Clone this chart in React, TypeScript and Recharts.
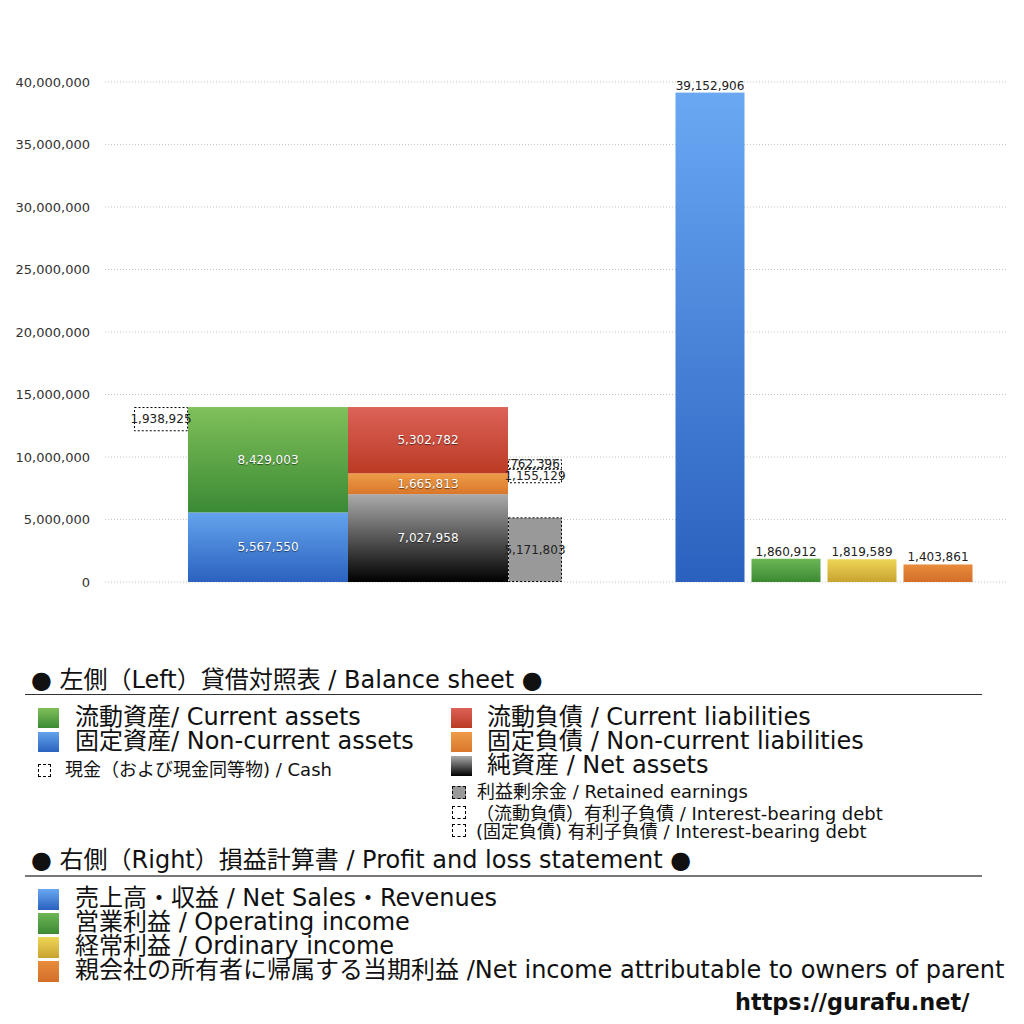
import React from 'react';
import { BarChart, Bar, XAxis, YAxis, CartesianGrid, LabelList } from 'recharts';

// ---- data ----
const groups = ['貸借対照表', '損益計算書'];
const cash = [1938925, null];
const nonCurrentAssets = [5567550, null];
const currentAssets = [8429003, null];
const netAssets = [7027958, null];
const nonCurrentLiabilities = [1665813, null];
const currentLiabilities = [5302782, null];
const retainedEarnings = [5171803, null];
const debtBoxBase = [7900000, null]; // level where the interest-bearing debt boxes start
const debtNonCurrent = [1155129, null];
const debtCurrent = [762396, null];
const netSales = [null, 39152906];
const operatingIncome = [null, 1860912];
const ordinaryIncome = [null, 1819589];
const netIncome = [null, 1403861];
const yTicks = [0, 5000000, 10000000, 15000000, 20000000, 25000000, 30000000, 35000000, 40000000];

const bsHeader = '● 左側（Left）貸借対照表 / Balance sheet ●';
const bsLeftItems = ['流動資産/ Current assets', '固定資産/ Non-current assets'];
const bsCashItem = '現金（および現金同等物) / Cash';
const bsRightItems = ['流動負債 /  Current liabilities', '固定負債 / Non-current liabilities', '純資産 / Net assets'];
const bsSmallItems = ['利益剰余金 / Retained earnings', '（流動負債）有利子負債 / Interest-bearing debt', '(固定負債) 有利子負債 / Interest-bearing debt'];
const plHeader = '● 右側（Right）損益計算書 / Profit and loss statement ●';
const plItems = ['売上高・収益 / Net Sales・Revenues', '営業利益 / Operating income', '経常利益 / Ordinary income', '親会社の所有者に帰属する当期利益 /Net income attributable to owners of parent'];
const siteUrl = 'https://gurafu.net/';

const data = groups.map((name, i) => {
  const assetsTotal = nonCurrentAssets[i] != null ? (nonCurrentAssets[i] as number) + (currentAssets[i] as number) : null;
  return {
    name,
    cashGap: cash[i] != null && assetsTotal != null ? assetsTotal - (cash[i] as number) : null,
    cash: cash[i],
    nonCurrentAssets: nonCurrentAssets[i],
    currentAssets: currentAssets[i],
    netAssets: netAssets[i],
    nonCurrentLiabilities: nonCurrentLiabilities[i],
    currentLiabilities: currentLiabilities[i],
    retainedEarnings: retainedEarnings[i],
    debtGap: debtBoxBase[i] != null ? (debtBoxBase[i] as number) - (retainedEarnings[i] as number) : null,
    debtNonCurrent: debtNonCurrent[i],
    debtCurrent: debtCurrent[i],
    netSales: netSales[i],
    operatingIncome: operatingIncome[i],
    ordinaryIncome: ordinaryIncome[i],
    netIncome: netIncome[i],
  };
});

const FONT = "'DejaVu Sans', 'Noto Sans CJK JP', sans-serif";
const fmt = (v: any) => (v == null || v === 0 ? '' : Number(v).toLocaleString('en-US'));

const grads: Record<string, [string, string]> = {
  gGreen: ['#80c05a', '#3a8a34'],
  gBlue: ['#64a3ec', '#2b62bf'],
  gRed: ['#dc6258', '#bb3a24'],
  gOrange: ['#ee9c48', '#d9772b'],
  gBlack: ['#ababab', '#000000'],
  gSales: ['#6aa8f3', '#2a61bf'],
  gOp: ['#6cb655', '#3b8a33'],
  gOrd: ['#eed655', '#c8a331'],
  gNet: ['#e98c3c', '#d26f2a'],
};
const cssGrad = (k: string) => `linear-gradient(${grads[k][0]}, ${grads[k][1]})`;

const PlainShape = (p: any) => {
  if (!p.height || p.height < 0.5) return null;
  return <rect x={p.x} y={p.y} width={p.width} height={p.height} fill={p.fill} />;
};
const DashShape = (p: any) => {
  if (!p.height || p.height < 0.5) return null;
  return (
    <rect x={p.x + 0.5} y={p.y + 0.5} width={p.width - 1} height={p.height - 1} fill={p.fill}
      stroke="#000" strokeWidth={1} strokeDasharray="2 2" />
  );
};
const InsetShape = (p: any) => {
  if (!p.height || p.height < 0.5) return null;
  return <rect x={p.x + 3.5} y={p.y} width={p.width - 7} height={p.height} fill={p.fill} />;
};

const whiteLabel = { fill: '#fff', fontSize: 12, fontFamily: FONT, style: { textShadow: '0 1px 1px rgba(0,0,0,0.55)' } };
const darkLabel = { fill: '#222', fontSize: 12, fontFamily: FONT };

const Sq = ({ left, top, w, h, bg, dashed }: any) => (
  <div style={{
    position: 'absolute', left, top, width: w, height: h, boxSizing: 'border-box',
    background: bg || 'transparent', border: dashed ? '1px dashed #000' : 'none',
  }} />
);
const Txt = ({ left, top, size, children, bold }: any) => (
  <div style={{
    position: 'absolute', left, top, fontSize: size, lineHeight: '1', whiteSpace: 'nowrap',
    color: '#111', fontWeight: bold ? 700 : 400, fontFamily: FONT,
  }}>{children}</div>
);

export default function App() {
  const bigColors = ['gGreen', 'gBlue'];
  const rightColors = ['gRed', 'gOrange', 'gBlack'];
  const plColors = ['gSales', 'gOp', 'gOrd', 'gNet'];
  const big = 24;
  const small = 18;
  return (
    <div style={{ position: 'absolute', left: 0, top: 0, width: 1024, height: 1024, background: '#fff', fontFamily: FONT }}>
      <BarChart width={1024} height={600} data={data} barGap={0}
        margin={{ top: 82, right: 18, bottom: 18, left: 0 }}>
        <defs>
          {Object.keys(grads).map((k) => (
            <linearGradient key={k} id={k} x1="0" y1="0" x2="0" y2="1">
              <stop offset="0%" stopColor={grads[k][0]} />
              <stop offset="100%" stopColor={grads[k][1]} />
            </linearGradient>
          ))}
        </defs>
        <CartesianGrid xAxisId="L" vertical={false} stroke="#c4c4c4" strokeDasharray="1 2" />
        <XAxis xAxisId="L" dataKey="name" hide padding={{ left: 23, right: 0 }} />
        <XAxis xAxisId="R" dataKey="name" hide padding={{ left: 171, right: 0 }} />
        <YAxis width={105} domain={[0, 40000000]} ticks={yTicks} axisLine={false} tickLine={false}
          tickSize={6} tickMargin={9} interval={0}
          tick={{ fill: '#333', fontSize: 13, fontFamily: FONT }}
          tickFormatter={(v: number) => v.toLocaleString('en-US')} />

        {/* left: balance sheet */}
        <Bar xAxisId="L" dataKey="cashGap" stackId="cash" barSize={54} fill="transparent" shape={PlainShape} isAnimationActive={false} />
        <Bar xAxisId="L" dataKey="cash" stackId="cash" barSize={54} fill="transparent" shape={DashShape} isAnimationActive={false}>
          <LabelList dataKey="cash" position="center" formatter={fmt} {...darkLabel} />
        </Bar>
        <Bar xAxisId="L" dataKey="nonCurrentAssets" stackId="assets" barSize={160} fill="url(#gBlue)" shape={PlainShape} isAnimationActive={false}>
          <LabelList dataKey="nonCurrentAssets" position="center" formatter={fmt} {...whiteLabel} />
        </Bar>
        <Bar xAxisId="L" dataKey="currentAssets" stackId="assets" barSize={160} fill="url(#gGreen)" shape={PlainShape} isAnimationActive={false}>
          <LabelList dataKey="currentAssets" position="center" formatter={fmt} {...whiteLabel} />
        </Bar>
        <Bar xAxisId="L" dataKey="netAssets" stackId="liab" barSize={160} fill="url(#gBlack)" shape={PlainShape} isAnimationActive={false}>
          <LabelList dataKey="netAssets" position="center" formatter={fmt} {...whiteLabel} />
        </Bar>
        <Bar xAxisId="L" dataKey="nonCurrentLiabilities" stackId="liab" barSize={160} fill="url(#gOrange)" shape={PlainShape} isAnimationActive={false}>
          <LabelList dataKey="nonCurrentLiabilities" position="center" formatter={fmt} {...whiteLabel} />
        </Bar>
        <Bar xAxisId="L" dataKey="currentLiabilities" stackId="liab" barSize={160} fill="url(#gRed)" shape={PlainShape} isAnimationActive={false}>
          <LabelList dataKey="currentLiabilities" position="center" formatter={fmt} {...whiteLabel} />
        </Bar>
        <Bar xAxisId="L" dataKey="retainedEarnings" stackId="ret" barSize={54} fill="#999999" shape={DashShape} isAnimationActive={false}>
          <LabelList dataKey="retainedEarnings" position="center" formatter={fmt} {...darkLabel} />
        </Bar>
        <Bar xAxisId="L" dataKey="debtGap" stackId="ret" barSize={54} fill="transparent" shape={PlainShape} isAnimationActive={false} />
        <Bar xAxisId="L" dataKey="debtNonCurrent" stackId="ret" barSize={54} fill="#ffffff" shape={DashShape} isAnimationActive={false}>
          <LabelList dataKey="debtNonCurrent" position="center" formatter={fmt} {...darkLabel} />
        </Bar>
        <Bar xAxisId="L" dataKey="debtCurrent" stackId="ret" barSize={54} fill="#ffffff" shape={DashShape} isAnimationActive={false}>
          <LabelList dataKey="debtCurrent" position="center" formatter={fmt} {...darkLabel} />
        </Bar>

        {/* right: profit and loss */}
        <Bar xAxisId="R" dataKey="netSales" barSize={76} fill="url(#gSales)" shape={InsetShape} isAnimationActive={false}>
          <LabelList dataKey="netSales" position="top" offset={3} formatter={fmt} {...darkLabel} />
        </Bar>
        <Bar xAxisId="R" dataKey="operatingIncome" barSize={76} fill="url(#gOp)" shape={InsetShape} isAnimationActive={false}>
          <LabelList dataKey="operatingIncome" position="top" offset={3} formatter={fmt} {...darkLabel} />
        </Bar>
        <Bar xAxisId="R" dataKey="ordinaryIncome" barSize={76} fill="url(#gOrd)" shape={InsetShape} isAnimationActive={false}>
          <LabelList dataKey="ordinaryIncome" position="top" offset={3} formatter={fmt} {...darkLabel} />
        </Bar>
        <Bar xAxisId="R" dataKey="netIncome" barSize={76} fill="url(#gNet)" shape={InsetShape} isAnimationActive={false}>
          <LabelList dataKey="netIncome" position="top" offset={3} formatter={fmt} {...darkLabel} />
        </Bar>
      </BarChart>

      {/* legend: balance sheet */}
      <Txt left={31} top={668} size={big}>{bsHeader}</Txt>
      <div style={{ position: 'absolute', left: 25, top: 694, width: 957, height: 1, background: '#333' }} />
      {bsLeftItems.map((t, i) => (
        <React.Fragment key={t}>
          <Sq left={38} top={708 + i * 24} w={21} h={20} bg={cssGrad(bigColors[i])} />
          <Txt left={75} top={705 + i * 24} size={big}>{t}</Txt>
        </React.Fragment>
      ))}
      <Sq left={38} top={764} w={13} h={13} dashed />
      <Txt left={65} top={761} size={small}>{bsCashItem}</Txt>
      {bsRightItems.map((t, i) => (
        <React.Fragment key={t}>
          <Sq left={451} top={708 + i * 24} w={21} h={20} bg={cssGrad(rightColors[i])} />
          <Txt left={487} top={705 + i * 24} size={big}>{t}</Txt>
        </React.Fragment>
      ))}
      {bsSmallItems.map((t, i) => (
        <React.Fragment key={t}>
          <Sq left={452} top={[786, 806, 824][i]} w={14} h={13} dashed bg={i === 0 ? '#999' : undefined} />
          <Txt left={[477, 476, 476][i]} top={[783, 805, 823][i]} size={small}>{t}</Txt>
        </React.Fragment>
      ))}

      {/* legend: profit and loss */}
      <Txt left={31} top={848} size={big}>{plHeader}</Txt>
      <div style={{ position: 'absolute', left: 25, top: 875, width: 957, height: 2, background: '#777' }} />
      {plItems.map((t, i) => (
        <React.Fragment key={t}>
          <Sq left={38} top={889 + i * 24} w={21} h={21} bg={cssGrad(plColors[i])} />
          <Txt left={75} top={886 + i * 24} size={big}>{t}</Txt>
        </React.Fragment>
      ))}
      <Txt left={735} top={991} size={22.4} bold>{siteUrl}</Txt>
    </div>
  );
}
